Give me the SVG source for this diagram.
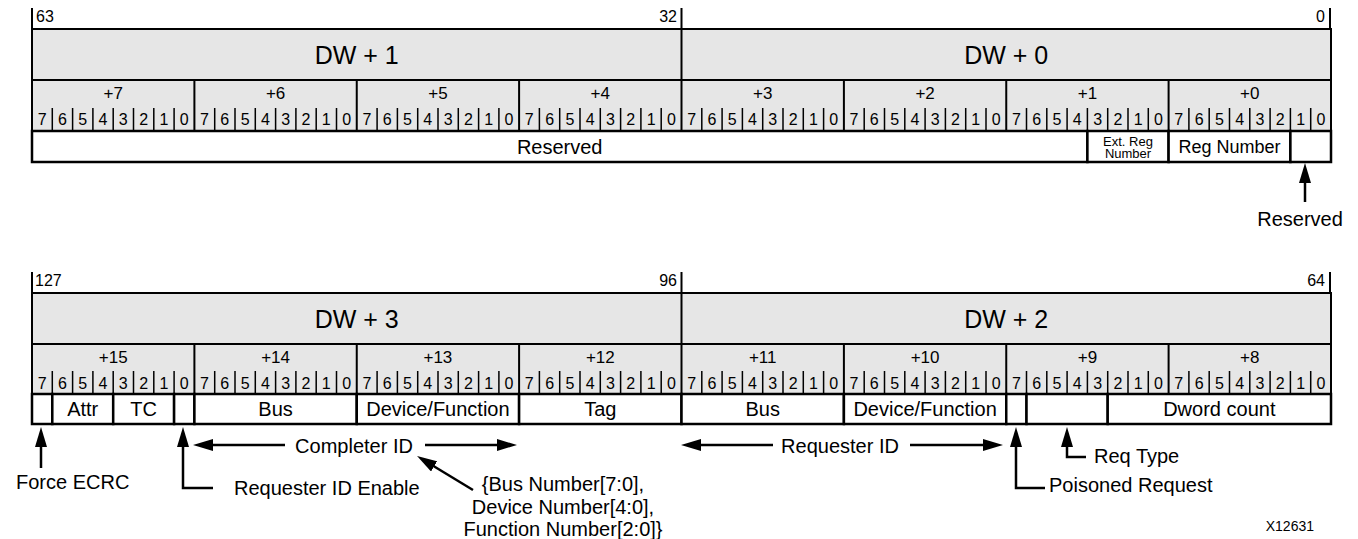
<svg xmlns="http://www.w3.org/2000/svg" xmlns:xlink="http://www.w3.org/1999/xlink" width="1358" height="539" viewBox="0 0 1358 539">
<style>
text{font-family:"Liberation Sans",Arial,sans-serif;fill:#000}
.dw{font-size:25px;text-anchor:middle}
.byte{font-size:17px;text-anchor:middle}
.bit{font-size:16px;text-anchor:middle}
.num{font-size:16px}
.end{text-anchor:end}
.fld{font-size:20px;text-anchor:middle}
.ann{font-size:20px}
.grey{fill:#e6e6e6;stroke:#000;stroke-width:2}
.cell{fill:#fff;stroke:#000;stroke-width:2.5}
.ln{stroke:#000;stroke-width:2;fill:none}
.sep{stroke:#000;stroke-width:1.5;fill:none}
.con{stroke:#000;stroke-width:2.5;fill:none}
</style>
<defs>
<marker id="ah" viewBox="0 0 20 12" markerWidth="20" markerHeight="12" refX="10" refY="6" orient="auto" markerUnits="userSpaceOnUse">
<path d="M0,0 L20,6 L0,12 z" fill="#000"/>
</marker>
<path id="bitsep" d="M52.3,0v23M72.6,0v23M92.9,0v23M113.2,0v23M133.5,0v23M153.8,0v23M174.1,0v23M214.7,0v23M235,0v23M255.3,0v23M275.6,0v23M295.9,0v23M316.2,0v23M336.5,0v23M377.1,0v23M397.4,0v23M417.7,0v23M438,0v23M458.3,0v23M478.6,0v23M498.9,0v23M539.4,0v23M559.7,0v23M580,0v23M600.3,0v23M620.6,0v23M640.9,0v23M661.2,0v23M701.8,0v23M722.1,0v23M742.4,0v23M762.7,0v23M783,0v23M803.3,0v23M823.6,0v23M864.2,0v23M884.5,0v23M904.8,0v23M925.1,0v23M945.4,0v23M965.7,0v23M986,0v23M1026.5,0v23M1046.8,0v23M1067.1,0v23M1087.4,0v23M1107.7,0v23M1128,0v23M1148.3,0v23M1188.9,0v23M1209.2,0v23M1229.5,0v23M1249.8,0v23M1270.1,0v23M1290.4,0v23M1310.7,0v23"/>
</defs>

<!-- ===== Top register (DW+1, DW+0) ===== -->
<g id="reg-top">
<path class="ln" d="M32,8V29M681.5,8V29M1330,8V29"/>
<text class="num" x="36" y="22">63</text>
<text class="num end" x="677" y="22">32</text>
<text class="num end" x="1325" y="22">0</text>
<rect class="grey" x="32" y="29" width="1299" height="102"/>
<path class="ln" d="M32,80H1331M681.5,29V80M194.4,80V131M356.75,80V131M519.1,80V131M681.5,80V131M843.9,80V131M1006.25,80V131M1168.6,80V131"/>
<use href="#bitsep" xlink:href="#bitsep" class="sep" y="108"/>
<text class="dw" x="356.75" y="63.5">DW + 1</text>
<text class="dw" x="1006.25" y="63.5">DW + 0</text>
<text class="byte" x="113.2" y="98.5">+7</text>
<text class="byte" x="275.6" y="98.5">+6</text>
<text class="byte" x="437.9" y="98.5">+5</text>
<text class="byte" x="600.3" y="98.5">+4</text>
<text class="byte" x="762.7" y="98.5">+3</text>
<text class="byte" x="925.1" y="98.5">+2</text>
<text class="byte" x="1087.4" y="98.5">+1</text>
<text class="byte" x="1249.8" y="98.5">+0</text>
<text class="bit" x="42.1 62.4 82.7 103 123.3 143.6 163.9 184.2" y="125">76543210</text>
<text class="bit" x="204.5 224.8 245.1 265.4 285.7 306 326.3 346.6" y="125">76543210</text>
<text class="bit" x="366.9 387.2 407.5 427.8 448.1 468.4 488.7 509" y="125">76543210</text>
<text class="bit" x="529.3 549.6 569.9 590.2 610.5 630.8 651.1 671.4" y="125">76543210</text>
<text class="bit" x="691.6 711.9 732.2 752.5 772.8 793.1 813.4 833.7" y="125">76543210</text>
<text class="bit" x="854 874.3 894.6 914.9 935.2 955.5 975.8 996.1" y="125">76543210</text>
<text class="bit" x="1016.4 1036.7 1057 1077.3 1097.6 1117.9 1138.2 1158.5" y="125">76543210</text>
<text class="bit" x="1178.8 1199.1 1219.4 1239.7 1260 1280.3 1300.6 1320.9" y="125">76543210</text>
</g>
<g id="f-reserved-top"><rect class="cell" x="32" y="131" width="1055.4" height="31"/><text class="fld" x="559.7" y="153.5">Reserved</text></g>
<g id="f-ext-reg"><rect class="cell" x="1087.4" y="131" width="81.2" height="31"/><text x="1128" y="145.5" style="font-size:13px;text-anchor:middle">Ext. Reg</text><text x="1128" y="158" style="font-size:13px;text-anchor:middle">Number</text></g>
<g id="f-reg-number"><rect class="cell" x="1168.6" y="131" width="121.8" height="31"/><text x="1229.5" y="153" style="font-size:18px;text-anchor:middle">Reg Number</text></g>
<g id="f-reserved-bits"><rect class="cell" x="1290.4" y="131" width="40.6" height="31"/></g>
<g id="lbl-reserved"><text class="ann" x="1300" y="226" style="text-anchor:middle">Reserved</text></g>

<!-- ===== Bottom register (DW+3, DW+2) ===== -->
<g id="reg-bottom">
<path class="ln" d="M32,272V293M681.5,272V293M1330,272V293"/>
<text class="num" x="35" y="286">127</text>
<text class="num end" x="677" y="286">96</text>
<text class="num end" x="1325" y="286">64</text>
<rect class="grey" x="32" y="293" width="1299" height="101"/>
<path class="ln" d="M32,344H1331M681.5,293V344M194.4,344V394M356.75,344V394M519.1,344V394M681.5,344V394M843.9,344V394M1006.25,344V394M1168.6,344V394"/>
<use href="#bitsep" xlink:href="#bitsep" class="sep" y="371"/>
<text class="dw" x="356.75" y="327.5">DW + 3</text>
<text class="dw" x="1006.25" y="327.5">DW + 2</text>
<text class="byte" x="113.2" y="362.5">+15</text>
<text class="byte" x="275.6" y="362.5">+14</text>
<text class="byte" x="437.9" y="362.5">+13</text>
<text class="byte" x="600.3" y="362.5">+12</text>
<text class="byte" x="762.7" y="362.5">+11</text>
<text class="byte" x="925.1" y="362.5">+10</text>
<text class="byte" x="1087.4" y="362.5">+9</text>
<text class="byte" x="1249.8" y="362.5">+8</text>
<text class="bit" x="42.1 62.4 82.7 103 123.3 143.6 163.9 184.2" y="389">76543210</text>
<text class="bit" x="204.5 224.8 245.1 265.4 285.7 306 326.3 346.6" y="389">76543210</text>
<text class="bit" x="366.9 387.2 407.5 427.8 448.1 468.4 488.7 509" y="389">76543210</text>
<text class="bit" x="529.3 549.6 569.9 590.2 610.5 630.8 651.1 671.4" y="389">76543210</text>
<text class="bit" x="691.6 711.9 732.2 752.5 772.8 793.1 813.4 833.7" y="389">76543210</text>
<text class="bit" x="854 874.3 894.6 914.9 935.2 955.5 975.8 996.1" y="389">76543210</text>
<text class="bit" x="1016.4 1036.7 1057 1077.3 1097.6 1117.9 1138.2 1158.5" y="389">76543210</text>
<text class="bit" x="1178.8 1199.1 1219.4 1239.7 1260 1280.3 1300.6 1320.9" y="389">76543210</text>
</g>
<g id="f-force-ecrc"><rect class="cell" x="32" y="394" width="20.3" height="30"/></g>
<g id="f-attr"><rect class="cell" x="52.3" y="394" width="60.9" height="30"/><text class="fld" x="82.7" y="416">Attr</text></g>
<g id="f-tc"><rect class="cell" x="113.2" y="394" width="60.9" height="30"/><text class="fld" x="143.6" y="416">TC</text></g>
<g id="f-req-id-en"><rect class="cell" x="174.1" y="394" width="20.3" height="30"/></g>
<g id="f-bus-c"><rect class="cell" x="194.4" y="394" width="162.35" height="30"/><text class="fld" x="275.6" y="416">Bus</text></g>
<g id="f-devfn-c"><rect class="cell" x="356.75" y="394" width="162.35" height="30"/><text class="fld" x="437.9" y="416">Device/Function</text></g>
<g id="f-tag"><rect class="cell" x="519.1" y="394" width="162.4" height="30"/><text class="fld" x="600.3" y="416">Tag</text></g>
<g id="f-bus-r"><rect class="cell" x="681.5" y="394" width="162.4" height="30"/><text class="fld" x="762.7" y="416">Bus</text></g>
<g id="f-devfn-r"><rect class="cell" x="843.9" y="394" width="162.35" height="30"/><text class="fld" x="925.1" y="416">Device/Function</text></g>
<g id="f-poisoned"><rect class="cell" x="1006.25" y="394" width="20.25" height="30"/></g>
<g id="f-req-type"><rect class="cell" x="1026.5" y="394" width="81.2" height="30"/></g>
<g id="f-dword-count"><rect class="cell" x="1107.7" y="394" width="223.3" height="30"/><text class="fld" x="1219.3" y="416">Dword count</text></g>

<g id="lbl-force-ecrc"><text class="ann" x="16" y="489">Force ECRC</text></g>
<g id="lbl-req-id-en"><text class="ann" x="234" y="495">Requester ID Enable</text></g>
<g id="lbl-completer-id"><text class="ann" x="354" y="453" style="text-anchor:middle">Completer ID</text></g>
<g id="lbl-bdf"><text class="ann" x="563" y="491" style="text-anchor:middle">{Bus Number[7:0],</text><text class="ann" x="563" y="514" style="text-anchor:middle">Device Number[4:0],</text><text class="ann" x="563" y="536" style="text-anchor:middle">Function Number[2:0]}</text></g>
<g id="lbl-requester-id"><text class="ann" x="840" y="453" style="text-anchor:middle">Requester ID</text></g>
<g id="lbl-poisoned"><text class="ann" x="1049" y="492">Poisoned Request</text></g>
<g id="lbl-req-type"><text class="ann" x="1094" y="463">Req Type</text></g>
<g id="lbl-id"><text x="1314" y="531" style="font-size:14px;text-anchor:end">X12631</text></g>

<g id="connectors">
<path class="con" d="M1305,202V173" marker-end="url(#ah)"/>
<path class="con" d="M41,468V437" marker-end="url(#ah)"/>
<path class="con" d="M213,488H183V437" marker-end="url(#ah)"/>
<path class="con" d="M285,445H203" marker-end="url(#ah)"/>
<path class="con" d="M425,445H507" marker-end="url(#ah)"/>
<path class="con" d="M473,490L425.6,461.2" marker-end="url(#ah)"/>
<path class="con" d="M773,445H691" marker-end="url(#ah)"/>
<path class="con" d="M910,445H993" marker-end="url(#ah)"/>
<path class="con" d="M1045,488H1016V437" marker-end="url(#ah)"/>
<path class="con" d="M1086,457H1067V437" marker-end="url(#ah)"/>
</g>
</svg>
